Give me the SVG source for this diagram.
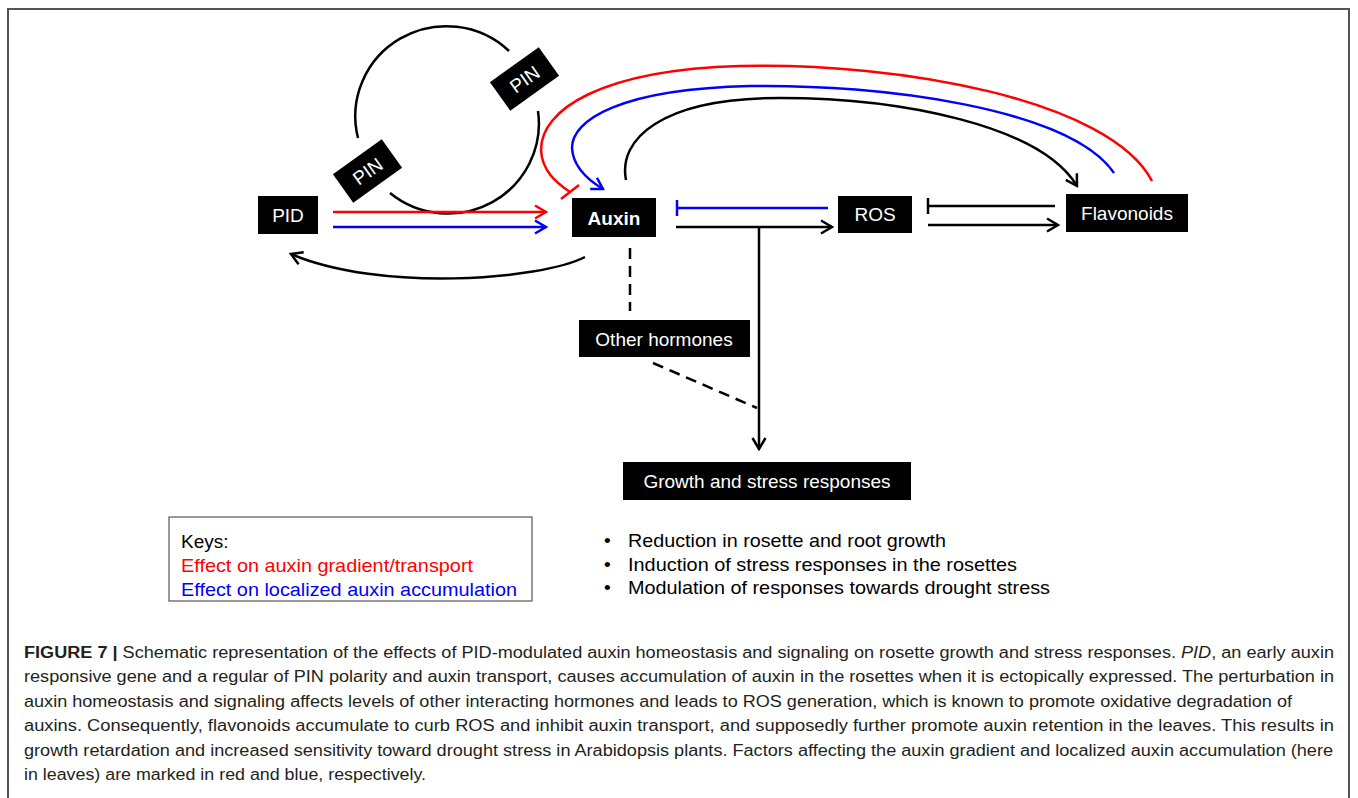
<svg xmlns="http://www.w3.org/2000/svg" width="1358" height="798" viewBox="0 0 1358 798">
<style>
.box{fill:#000}
.nt{font-family:"Liberation Sans",Arial,sans-serif;font-size:19px;fill:#fff;text-anchor:middle}
.ln{fill:none;stroke-width:2.5}
.k{stroke:#000}.r{stroke:#f00}.b{stroke:#00f}
.dash{stroke-dasharray:11 7}
.body{font-family:"Liberation Sans",Arial,sans-serif;font-size:19px}
.cap{font-family:"Liberation Sans",Arial,sans-serif;font-size:16px;fill:#231f20}
</style>
<defs>
<marker id="ak" markerUnits="userSpaceOnUse" markerWidth="16" markerHeight="16" viewBox="0 0 16 16" refX="14" refY="8" orient="auto"><path d="M3,1.5 L14,8 L3,14.5" fill="none" stroke="#000" stroke-width="2.5"/></marker>
<marker id="ar" markerUnits="userSpaceOnUse" markerWidth="16" markerHeight="16" viewBox="0 0 16 16" refX="14" refY="8" orient="auto"><path d="M3,1.5 L14,8 L3,14.5" fill="none" stroke="#f00" stroke-width="2.5"/></marker>
<marker id="ab" markerUnits="userSpaceOnUse" markerWidth="16" markerHeight="16" viewBox="0 0 16 16" refX="14" refY="8" orient="auto"><path d="M3,1.5 L14,8 L3,14.5" fill="none" stroke="#00f" stroke-width="2.5"/></marker>
</defs>
<rect width="1358" height="798" fill="#fff"/>
<path d="M8,800 V9 H1349 V800" fill="none" stroke="#555" stroke-width="2"/>

<g id="connectors">
  <!-- PIN cycle arcs -->
  <path class="ln k" d="M358,138 A91,90 0 0 1 509,51"/>
  <path class="ln k" d="M538,111 A91,90 0 0 1 390,193"/>
  <!-- PID to Auxin -->
  <line class="ln r" x1="333" y1="212" x2="546" y2="212" marker-end="url(#ar)"/>
  <line class="ln b" x1="333" y1="227" x2="546" y2="227" marker-end="url(#ab)"/>
  <!-- Auxin to PID -->
  <path class="ln k" d="M585,257 C540,280 380,292 291,254" marker-end="url(#ak)"/>
  <!-- Flavonoids red inhibition to Auxin -->
  <path class="ln r" d="M1152,181 C1110,100 900,62 740,66 C600,70 541,110 541,150 C542,170 555,182 570,192"/>
  <line class="ln r" x1="561" y1="199" x2="579" y2="185"/>
  <!-- Flavonoids blue to Auxin -->
  <path class="ln b" d="M1114,173 C1070,108 880,84 750,86 C620,89 572,120 572,148 C573,166 588,180 603,189" marker-end="url(#ab)"/>
  <!-- Auxin to Flavonoids black -->
  <path class="ln k" d="M626,180 C618,140 660,98 780,98 C900,98 1040,125 1077,186" marker-end="url(#ak)"/>
  <!-- ROS inhibits Auxin (blue) -->
  <line class="ln b" x1="828" y1="208" x2="677" y2="208"/>
  <line class="ln b" x1="677" y1="200" x2="677" y2="216"/>
  <!-- Auxin to ROS -->
  <line class="ln k" x1="676" y1="227" x2="832" y2="227" marker-end="url(#ak)"/>
  <!-- Flavonoids inhibits ROS -->
  <line class="ln k" x1="1055" y1="206" x2="928" y2="206"/>
  <line class="ln k" x1="928" y1="198" x2="928" y2="214"/>
  <!-- ROS to Flavonoids -->
  <line class="ln k" x1="928" y1="225" x2="1058" y2="225" marker-end="url(#ak)"/>
  <!-- to Growth -->
  <line class="ln k" x1="759" y1="227" x2="759" y2="449" marker-end="url(#ak)"/>
  <!-- dashed -->
  <line class="ln k dash" x1="630" y1="248" x2="630" y2="311"/>
  <line class="ln k dash" x1="653" y1="363" x2="757" y2="408"/>
</g>

<g id="node-pid"><rect class="box" x="258" y="196" width="60" height="38"/><text class="nt" x="288" y="222" font-size="20">PID</text></g>
<g id="node-auxin"><rect class="box" x="572" y="198" width="84" height="39"/><text class="nt" x="614" y="225" font-weight="bold">Auxin</text></g>
<g id="node-ros"><rect class="box" x="838" y="196" width="74" height="37"/><text class="nt" x="875" y="221">ROS</text></g>
<g id="node-flavonoids"><rect class="box" x="1066" y="194" width="122" height="38"/><text class="nt" x="1127" y="220">Flavonoids</text></g>
<g id="node-other"><rect class="box" x="579" y="320" width="171" height="37"/><text class="nt" x="664" y="346">Other hormones</text></g>
<g id="node-growth"><rect class="box" x="623" y="462" width="288" height="38"/><text class="nt" x="767" y="488">Growth and stress responses</text></g>
<g id="node-pin1" transform="translate(524.5,79) rotate(-35.5)"><rect class="box" x="-30" y="-17.5" width="60" height="35"/><text class="nt" x="0" y="7" font-size="18">PIN</text></g>
<g id="node-pin2" transform="translate(367.5,171) rotate(-35.5)"><rect class="box" x="-30" y="-17.5" width="60" height="35"/><text class="nt" x="0" y="7" font-size="18">PIN</text></g>

<g id="keys">
  <rect x="169" y="517" width="363" height="84" fill="#fff" stroke="#555" stroke-width="1.2"/>
  <text class="body" x="181" y="548" fill="#000">Keys:</text>
  <text class="body" x="181" y="572" fill="#f00" textLength="292" lengthAdjust="spacingAndGlyphs">Effect on auxin gradient/transport</text>
  <text class="body" x="181" y="596" fill="#00f" textLength="336" lengthAdjust="spacingAndGlyphs">Effect on localized auxin accumulation</text>
</g>
<g id="outcomes" class="body" fill="#000">
  <text x="604" y="547">•</text><text x="628" y="547" textLength="318" lengthAdjust="spacingAndGlyphs">Reduction in rosette and root growth</text>
  <text x="604" y="571">•</text><text x="628" y="571" textLength="389" lengthAdjust="spacingAndGlyphs">Induction of stress responses in the rosettes</text>
  <text x="604" y="594">•</text><text x="628" y="594" textLength="422" lengthAdjust="spacingAndGlyphs">Modulation of responses towards drought stress</text>
</g>

<g id="caption" class="cap">
  <text x="24" y="658" textLength="1310" lengthAdjust="spacingAndGlyphs"><tspan font-weight="bold">FIGURE 7 |</tspan> Schematic representation of the effects of PID-modulated auxin homeostasis and signaling on rosette growth and stress responses. <tspan font-style="italic">PID</tspan>, an early auxin</text>
  <text x="24" y="682" textLength="1310" lengthAdjust="spacingAndGlyphs">responsive gene and a regular of PIN polarity and auxin transport, causes accumulation of auxin in the rosettes when it is ectopically expressed. The perturbation in</text>
  <text x="24" y="707" textLength="1268" lengthAdjust="spacingAndGlyphs">auxin homeostasis and signaling affects levels of other interacting hormones and leads to ROS generation, which is known to promote oxidative degradation of</text>
  <text x="24" y="731" textLength="1310" lengthAdjust="spacingAndGlyphs">auxins. Consequently, flavonoids accumulate to curb ROS and inhibit auxin transport, and supposedly further promote auxin retention in the leaves. This results in</text>
  <text x="24" y="756" textLength="1309" lengthAdjust="spacingAndGlyphs">growth retardation and increased sensitivity toward drought stress in Arabidopsis plants. Factors affecting the auxin gradient and localized auxin accumulation (here</text>
  <text x="24" y="780" textLength="402" lengthAdjust="spacingAndGlyphs">in leaves) are marked in red and blue, respectively.</text>
</g>
</svg>
